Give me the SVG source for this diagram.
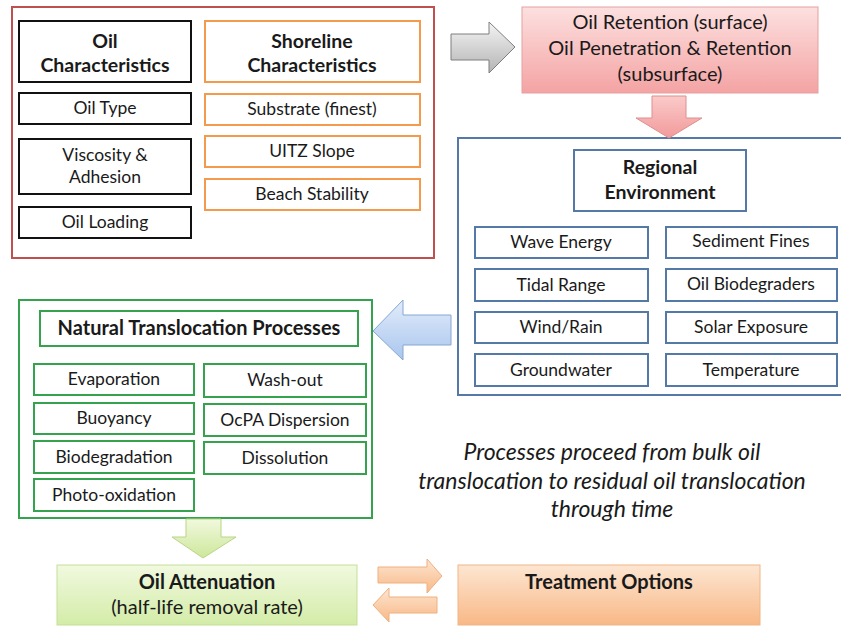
<svg xmlns="http://www.w3.org/2000/svg" width="841" height="628" viewBox="0 0 841 628">
<defs>
<linearGradient id="gGray" x1="0" y1="0" x2="0" y2="1"><stop offset="0" stop-color="#f4f4f4"/><stop offset="1" stop-color="#b4b4b4"/></linearGradient>
<linearGradient id="gPink" x1="0" y1="0" x2="0" y2="1"><stop offset="0" stop-color="#fde0e0"/><stop offset="1" stop-color="#f4a3a3"/></linearGradient>
<linearGradient id="gPinkA" x1="0" y1="0" x2="0" y2="1"><stop offset="0" stop-color="#fbcaca"/><stop offset="1" stop-color="#f29a9a"/></linearGradient>
<linearGradient id="gBlue" x1="0" y1="0" x2="0" y2="1"><stop offset="0" stop-color="#e2ecfa"/><stop offset="1" stop-color="#a9c6ee"/></linearGradient>
<linearGradient id="gGreen" x1="0" y1="0" x2="0" y2="1"><stop offset="0" stop-color="#f1f9de"/><stop offset="1" stop-color="#cde79a"/></linearGradient>
<linearGradient id="gGreenBox" x1="0" y1="0" x2="0" y2="1"><stop offset="0" stop-color="#f1f9df"/><stop offset="1" stop-color="#d3eca8"/></linearGradient>
<linearGradient id="gOrange" x1="0" y1="0" x2="0" y2="1"><stop offset="0" stop-color="#fde6d2"/><stop offset="1" stop-color="#f8b886"/></linearGradient>
</defs>
<style>
text{font-family:Lato,"Liberation Sans",sans-serif;fill:#1a1a1a;text-anchor:middle}
.t{font-size:17.5px}
.b{font-size:19.5px;font-weight:bold}
.p{font-size:20px}
.bs{font-size:20px;font-weight:bold}
.it{font-size:23px;font-style:italic}
.blk{fill:#fff;stroke:#111;stroke-width:2}
.org{fill:#fff;stroke:#f39a4c;stroke-width:2}
.blu{fill:#fff;stroke:#5479a6;stroke-width:2}
.grn{fill:#fff;stroke:#35a34d;stroke-width:2}
</style>
<rect x="0" y="0" width="841" height="628" fill="#fff"/>

<g id="oil-shoreline-panel">
<rect x="12" y="7" width="422" height="251" fill="#fff" stroke="#c0504d" stroke-width="2"/>
</g>
<g id="oil-characteristics"><rect class="blk" x="19" y="21" width="172" height="61"/><text class="b" x="105" y="48">Oil</text><text class="b" x="105" y="72">Characteristics</text></g>
<g id="oil-type"><rect class="blk" x="19" y="93" width="172" height="31"/><text class="t" x="105" y="114">Oil Type</text></g>
<g id="viscosity"><rect class="blk" x="19" y="139" width="172" height="55"/><text class="t" x="105" y="161">Viscosity &amp; </text><text class="t" x="105" y="183">Adhesion</text></g>
<g id="oil-loading"><rect class="blk" x="19" y="207" width="172" height="31"/><text class="t" x="105" y="228">Oil Loading</text></g>
<g id="shoreline-characteristics"><rect class="org" x="205" y="21" width="215" height="61"/><text class="b" x="312" y="48">Shoreline</text><text class="b" x="312" y="72">Characteristics</text></g>
<g id="substrate"><rect class="org" x="205" y="94" width="215" height="31"/><text class="t" x="312" y="115">Substrate (finest)</text></g>
<g id="uitz-slope"><rect class="org" x="205" y="136" width="215" height="31"/><text class="t" x="312" y="157">UITZ Slope</text></g>
<g id="beach-stability"><rect class="org" x="205" y="179" width="215" height="31"/><text class="t" x="312" y="200">Beach Stability</text></g>

<g id="oil-retention"><rect x="522" y="7" width="296" height="86" fill="url(#gPink)" stroke="#e3a1a0" stroke-width="1"/><text class="p" x="670" y="29">Oil Retention (surface)</text><text class="p" x="670" y="55">Oil Penetration &amp; Retention</text><text class="p" x="670" y="81">(subsurface)</text></g>

<g id="regional-panel"><rect x="458" y="138" width="390" height="257" fill="#fff" stroke="#5479a6" stroke-width="2"/></g>
<g id="regional-environment"><rect class="blu" x="574" y="150" width="172" height="61"/><text class="b" x="660" y="174">Regional</text><text class="b" x="660" y="199">Environment</text></g>
<g id="wave-energy"><rect class="blu" x="475" y="227" width="173" height="31"/><text class="t" x="561" y="248">Wave Energy</text></g>
<g id="tidal-range"><rect class="blu" x="475" y="269" width="173" height="32"/><text class="t" x="561" y="291">Tidal Range</text></g>
<g id="wind-rain"><rect class="blu" x="475" y="312" width="173" height="31"/><text class="t" x="561" y="333">Wind/Rain</text></g>
<g id="groundwater"><rect class="blu" x="475" y="354" width="173" height="32"/><text class="t" x="561" y="376">Groundwater</text></g>
<g id="sediment-fines"><rect class="blu" x="666" y="227" width="171" height="31"/><text class="t" x="751" y="247">Sediment Fines</text></g>
<g id="oil-biodegraders"><rect class="blu" x="666" y="269" width="171" height="32"/><text class="t" x="751" y="290">Oil Biodegraders</text></g>
<g id="solar-exposure"><rect class="blu" x="666" y="312" width="171" height="31"/><text class="t" x="751" y="333">Solar Exposure</text></g>
<g id="temperature"><rect class="blu" x="666" y="354" width="171" height="32"/><text class="t" x="751" y="376">Temperature</text></g>

<g id="natural-panel"><rect x="19" y="300" width="353" height="218" fill="#fff" stroke="#35a34d" stroke-width="2"/></g>
<g id="natural-translocation"><rect class="grn" x="40" y="311" width="318" height="35"/><text class="bs" x="199" y="335">Natural Translocation Processes</text></g>
<g id="evaporation"><rect class="grn" x="34" y="364" width="160" height="31"/><text class="t" x="114" y="385">Evaporation</text></g>
<g id="buoyancy"><rect class="grn" x="34" y="403" width="160" height="31"/><text class="t" x="114" y="424">Buoyancy</text></g>
<g id="biodegradation"><rect class="grn" x="34" y="441" width="160" height="32"/><text class="t" x="114" y="463">Biodegradation</text></g>
<g id="photo-oxidation"><rect class="grn" x="34" y="479" width="160" height="32"/><text class="t" x="114" y="501">Photo-oxidation</text></g>
<g id="wash-out"><rect class="grn" x="204" y="364" width="162" height="33"/><text class="t" x="285" y="386">Wash-out</text></g>
<g id="ocpa-dispersion"><rect class="grn" x="204" y="404" width="162" height="32"/><text class="t" x="285" y="426">OcPA Dispersion</text></g>
<g id="dissolution"><rect class="grn" x="204" y="442" width="162" height="32"/><text class="t" x="285" y="464">Dissolution</text></g>

<g id="note"><text class="it" x="612" y="460">Processes proceed from bulk oil</text><text class="it" x="612" y="489">translocation to residual oil translocation</text><text class="it" x="612" y="517">through time</text></g>

<g id="oil-attenuation"><rect x="57" y="565" width="300" height="60" fill="url(#gGreenBox)" stroke="#c3df97" stroke-width="1"/><text class="bs" x="207" y="589">Oil Attenuation</text><text class="p" x="207" y="614">(half-life removal rate)</text></g>
<g id="treatment-options"><rect x="458" y="565" width="302" height="60" fill="url(#gOrange)" stroke="#f1b585" stroke-width="1"/><text class="bs" x="609" y="589">Treatment Options</text></g>

<g id="connectors">
<polygon points="451,34 489,34 489,22 515,47 489,73 489,60 451,60" fill="url(#gGray)" stroke="#7f7f7f" stroke-width="1"/>
<polygon points="652,96 686,96 686,118 702,118 669,138 636,118 652,118" fill="url(#gPinkA)" stroke="#dc8f8e" stroke-width="1"/>
<polygon points="451,315 403,315 403,300 373,331 403,360 403,345 451,345" fill="url(#gBlue)" stroke="#86a7d3" stroke-width="1"/>
<polygon points="186,519 221,519 221,537 236,537 203,558 172,537 186,537" fill="url(#gGreen)" stroke="#b9d585" stroke-width="1"/>
<polygon points="378,567 427,567 427,559 442,576 427,593 427,583 378,583" fill="url(#gOrange)" stroke="#efb07e" stroke-width="1"/>
<polygon points="437,597 389,597 389,588 373,605 389,622 389,613 437,613" fill="url(#gOrange)" stroke="#efb07e" stroke-width="1"/>
</g>
</svg>
